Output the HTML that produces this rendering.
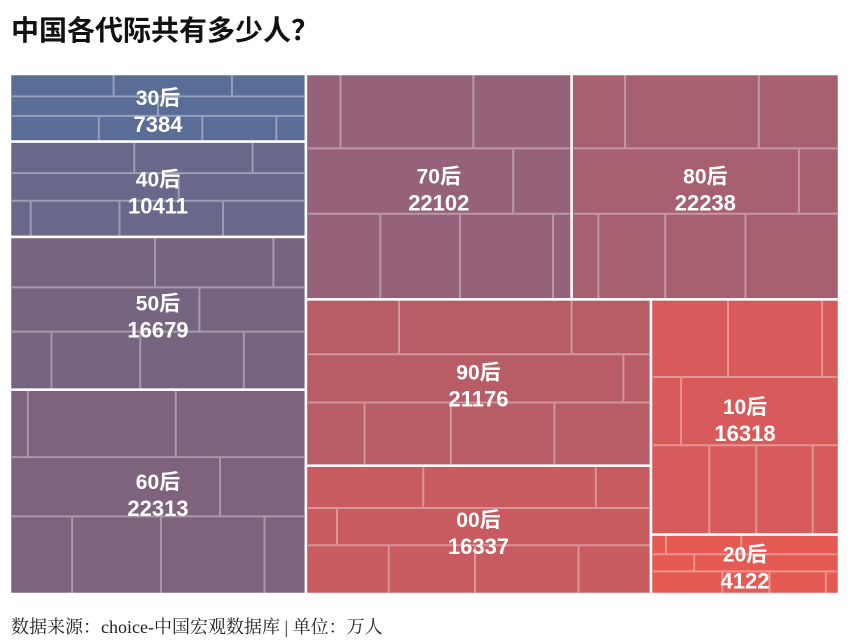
<!DOCTYPE html>
<html><head><meta charset="utf-8">
<style>
body{margin:0;background:#fff;width:850px;height:640px;overflow:hidden;font-family:"Liberation Sans","Noto Sans CJK SC",sans-serif;}
#title{position:absolute;left:11px;top:9px;font-size:28px;font-weight:bold;color:#111;}
#foot{position:absolute;left:11px;top:613px;font-size:18px;color:#222;font-family:"Liberation Serif","Noto Serif CJK SC",serif;}
svg{position:absolute;left:0;top:0;}
</style></head><body>
<div id="title">中国各代际共有多少人？</div>
<svg id="chart" width="850" height="640"></svg>
<div id="foot">数据来源：choice-中国宏观数据库 | 单位：万人</div>
<script>
const labels=["30后","40后","50后","60后","70后","80后","90后","00后","10后","20后"];
const values=[7384,10411,16679,22313,22102,22238,21176,16337,16318,4122];
const colors=["#5a6d96","#69688a","#766580","#7f627b","#966279","#a7606f","#b85d66","#c85b5f","#d85b5b","#e65a54"];
const X0=10,Y0=74,W=829,H=520;
const s=(a)=>a.reduce((p,i)=>p+values[i],0);
const rects=[];
const total=s([0,1,2,3,4,5,6,7,8,9]);
const lw=W*s([0,1,2,3])/total;
let y=Y0;const lsum=s([0,1,2,3]);
[0,1,2,3].forEach(i=>{const h=H*values[i]/lsum;rects[i]=[X0,y,lw,h];y+=h;});
const rx=X0+lw,rw=W-lw,rs=s([4,5,6,7,8,9]);
const th=H*s([4,5])/rs;
const w4=rw*values[4]/s([4,5]);
rects[4]=[rx,Y0,w4,th];rects[5]=[rx+w4,Y0,rw-w4,th];
const by=Y0+th,bh=H-th;
const w67=rw*s([6,7])/s([6,7,8,9]);
const h6=bh*values[6]/s([6,7]);
rects[6]=[rx,by,w67,h6];rects[7]=[rx,by+h6,w67,bh-h6];
const h8=bh*values[8]/s([8,9]);
rects[8]=[rx+w67,by,rw-w67,h8];rects[9]=[rx+w67,by+h8,rw-w67,bh-h8];
const svg=document.getElementById('chart');
const NS="http://www.w3.org/2000/svg";
function mk(t,a){const e=document.createElementNS(NS,t);for(const k in a)e.setAttribute(k,a[k]);return e;}
const pattern=[[0.33,[0.3,0.7]],[0.62,[0.45]],[1,[0.25,0.6,0.85]]];
rects.forEach((r,i)=>{
  const [x,y,w,h]=r;
  const g=mk('g',{});
  
  
  const rc=mk('rect',{x:x,y:y,width:w,height:h,fill:colors[i],stroke:'#fff','stroke-width':2.5});
  g.appendChild(rc);
  let prev=0;
  pattern.forEach(([f,vs],k)=>{
    const yy=y+h*f;
    if(f<1){g.appendChild(mk('line',{x1:x+2,x2:x+w-2,y1:yy,y2:yy,stroke:'rgba(255,255,255,0.35)','stroke-width':2}));}
    vs.forEach(v=>{const xx=x+w*((v+i*0.07)%0.9+0.05);
      g.appendChild(mk('line',{x1:xx,x2:xx,y1:y+h*prev+1,y2:yy-1,stroke:'rgba(255,255,255,0.35)','stroke-width':2}));});
    prev=f;
  });
  const cx=x+w/2,cy=y+h/2;
  const t1=mk('text',{x:cx,y:cy-3,'text-anchor':'middle',fill:'#fff','font-size':21,'font-weight':'bold'});
  t1.textContent=labels[i];
  
  
  const t2=mk('text',{x:cx,y:cy+24,'text-anchor':'middle',fill:'#fff','font-size':22,'font-weight':'bold'});
  t2.textContent=values[i];
  
  
  g.appendChild(t1);g.appendChild(t2);
  svg.appendChild(g);
});
</script>
</body></html>
